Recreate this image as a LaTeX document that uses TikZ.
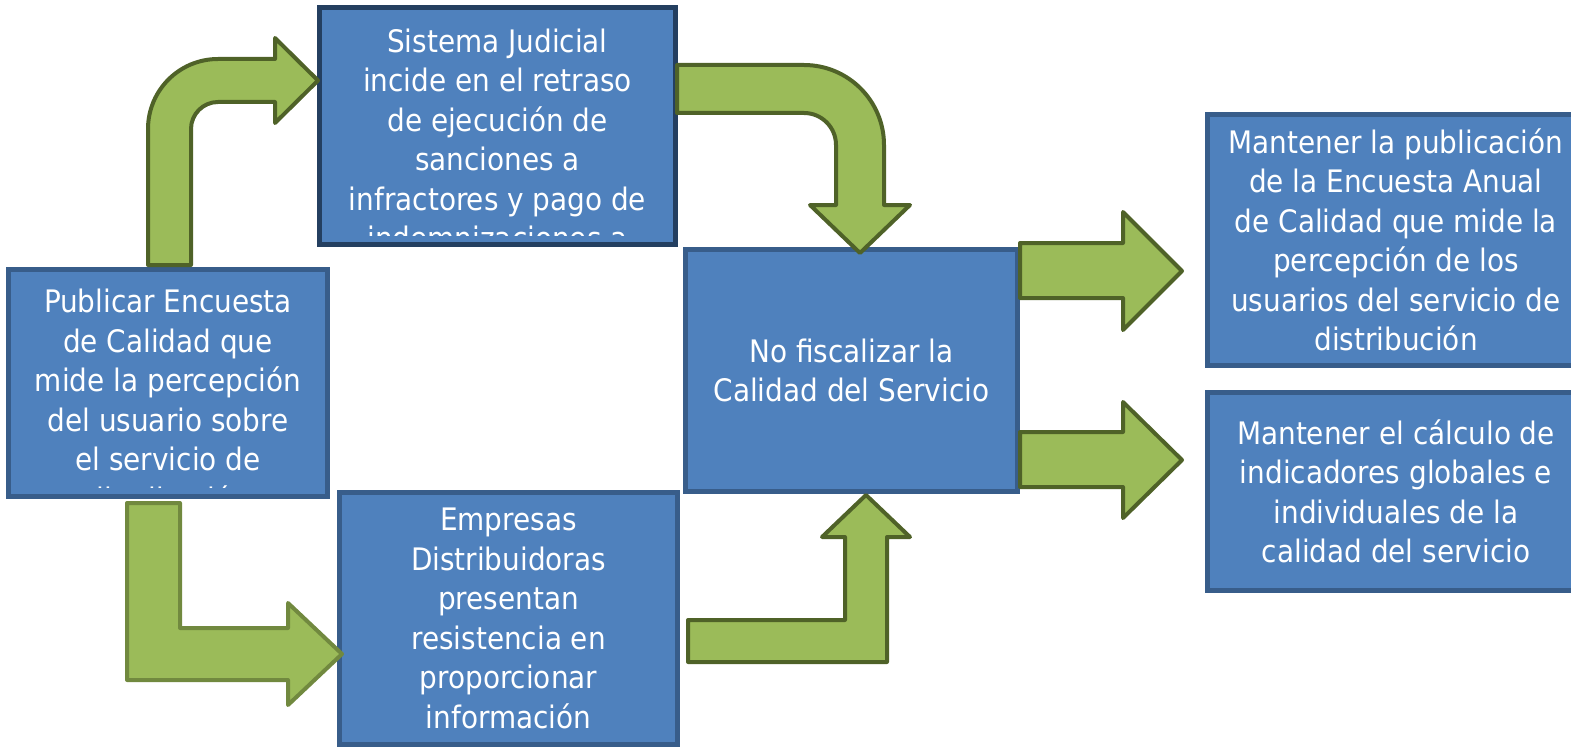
\documentclass[tikz,border=0pt]{standalone}
\usepackage{fontspec}
\setmainfont{DejaVu Sans Condensed}
\usetikzlibrary{positioning,calc}

\definecolor{boxfill}{HTML}{4F81BD}
\definecolor{boxline}{HTML}{385D8A}
\definecolor{judline}{HTML}{243F60}
\definecolor{arrowfill}{HTML}{9BBB59}
\definecolor{arrowline}{HTML}{4F6228}
\definecolor{arrowlight}{HTML}{71893F}

\newcommand{\boxfont}{\fontsize{31}{39.5}\selectfont}

\tikzset{
  causebox/.style={draw=boxline, fill=boxfill, line width=5.5pt, text=white,
    align=center, font=\boxfont, inner sep=0pt},
  boxtext/.style={text=white, align=center, font=\boxfont, inner sep=0pt},
  blockarrow/.style={draw=arrowline, fill=arrowfill, line width=4pt, line join=round},
}

\begin{document}
\begin{tikzpicture}[x=1pt, y=-1pt]
    \useasboundingbox (0,0) rectangle (1571,749);

    % boxes
    \node[causebox, minimum width=319pt, minimum height=227pt] (publicar) at (168,383) {};
    \node[causebox, draw=judline, minimum width=356pt, minimum height=237pt] (judicial) at (497.5,126) {};
    \node[causebox, minimum width=338pt, minimum height=252pt] (empresas) at (508.5,618.5)
        {Empresas\\Distribuidoras\\presentan\\resistencia en\\proporcionar\\información};
    \node[causebox, minimum width=332pt, minimum height=242pt] (fiscalizar) at (851.5,370.5)
        {No fiscalizar la\\Calidad del Servicio};
    \node[causebox, minimum width=377pt, minimum height=251pt] (encuesta) at (1396,240)
        {Mantener la publicación\\de la Encuesta Anual\\de Calidad que mide la\\percepción de los\\usuarios del servicio de\\distribución};
    \node[causebox, minimum width=377pt, minimum height=198pt] (indicadores) at (1396,491.5)
        {Mantener el cálculo de\\indicadores globales e\\individuales de la\\calidad del servicio};

    % text that runs past the bottom of its box
    \begin{scope}
        \clip ($(publicar.south west)+(2.5,-11.5)$) rectangle ($(publicar.north east)+(-2.5,2.5)$);
        \node[boxtext, anchor=north] (publicartext) at ($(publicar.north)+(0,22)$)
            {Publicar Encuesta\\de Calidad que\\mide la percepción\\del usuario sobre\\el servicio de\\distribución};
    \end{scope}
    \begin{scope}
        \clip ($(judicial.south west)+(2.5,-11.5)$) rectangle ($(judicial.north east)+(-2.5,2.5)$);
        \node[boxtext, anchor=north] (judicialtext) at ($(judicial.north)+(0,23.5)$)
            {Sistema Judicial\\incide en el retraso\\de ejecución de\\sanciones a\\infractores y pago de\\indemnizaciones a};
    \end{scope}

    % arrows
    \draw[blockarrow] (148,265) -- (148,129) .. controls (148,90.3) and (179.3,59) .. (218,59)
        -- (275,59) -- (275,38) -- (318,80.5) -- (275,123) -- (275,102) -- (218,102)
        .. controls (203.1,102) and (191,114.1) .. (191,129) -- (191,265) -- cycle;
    \draw[blockarrow] (677,65) -- (804,65) .. controls (848.2,65) and (884,100.8) .. (884,145)
        -- (884,205) -- (910,205) -- (860,253) -- (810,205) -- (836,205) -- (836,145)
        .. controls (836,127.3) and (821.7,113) .. (804,113) -- (677,113) -- cycle;
    \draw[blockarrow, draw=arrowlight] (127,503) -- (180,503) -- (180,628) -- (288,628)
        -- (288,603) -- (342,654) -- (288,705) -- (288,680) -- (127,680) -- cycle;
    \draw[blockarrow] (688,620) -- (845,620) -- (845,537) -- (822,537) -- (866,495)
        -- (910,537) -- (887,537) -- (887,662) -- (688,662) -- cycle;
    \draw[blockarrow] (1020,243) -- (1123,243) -- (1123,212) -- (1182,271) -- (1123,330)
        -- (1123,298) -- (1020,298) -- cycle;
    \draw[blockarrow] (1020,432) -- (1123,432) -- (1123,402) -- (1182,460) -- (1123,518)
        -- (1123,487) -- (1020,487) -- cycle;
\end{tikzpicture}
\end{document}
